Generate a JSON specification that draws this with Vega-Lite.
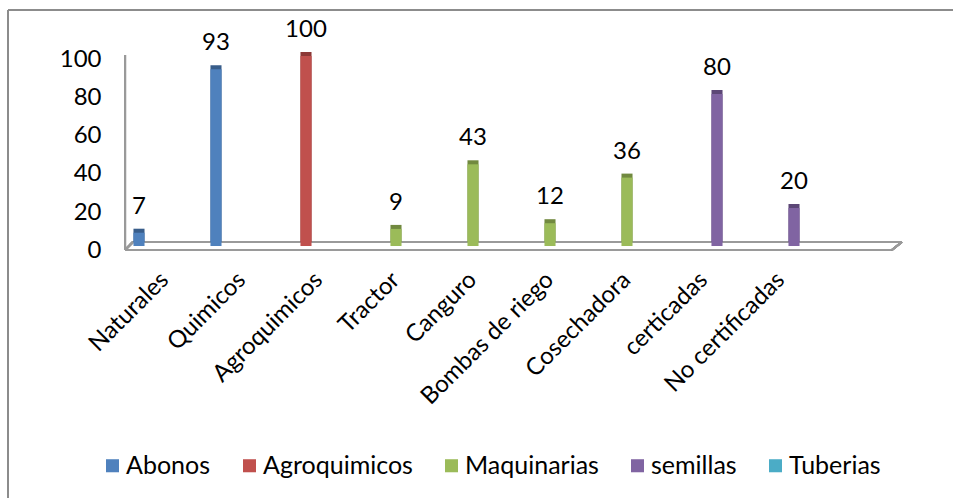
{
  "$schema": "https://vega.github.io/schema/vega-lite/v6.json",
  "width": 945,
  "height": 488,
  "autosize": {"type": "none"},
  "padding": {"left": 8, "top": 10, "right": 0, "bottom": 0},
  "config": {
    "view": {"stroke": null},
    "font": "Lato",
    "axis": {"labelFont": "Lato", "labelColor": "#000000"},
    "legend": {"labelFont": "Lato", "labelColor": "#000000"}
  },
  "data": {
    "values": [
      {"category": "Naturales", "group": "Abonos", "value": 7},
      {"category": "Quimicos", "group": "Abonos", "value": 93},
      {"category": "Agroquimicos", "group": "Agroquimicos", "value": 100},
      {"category": "Tractor", "group": "Maquinarias", "value": 9},
      {"category": "Canguro", "group": "Maquinarias", "value": 43},
      {"category": "Bombas de riego", "group": "Maquinarias", "value": 12},
      {"category": "Cosechadora", "group": "Maquinarias", "value": 36},
      {"category": "certicadas", "group": "semillas", "value": 80},
      {"category": "No certificadas", "group": "semillas", "value": 20}
    ]
  },
  "layer": [
    {
      "mark": {"type": "rule", "color": "#8c8c8c", "strokeWidth": 1.5},
      "encoding": {
        "x": {"datum": "Naturales", "bandPosition": -1.539, "type": "nominal", "scale": {"type": "band", "range": [118.5, 811.5], "paddingInner": 0, "paddingOuter": 0}},
        "x2": {"datum": "No certificadas", "bandPosition": 2.8},
        "y": {"datum": 126.3, "type": "quantitative"}
      }
    },
    {
      "mark": {"type": "rule", "color": "#8c8c8c", "strokeWidth": 1.5},
      "encoding": {
        "x": {"datum": "Naturales", "bandPosition": -1.539, "type": "nominal", "scale": {"type": "band", "range": [118.5, 811.5], "paddingInner": 0, "paddingOuter": 0}},
        "y": {"datum": 126.3, "type": "quantitative"},
        "y2": {"datum": -131}
      }
    },
    {
      "mark": {"type": "rule", "color": "#9a9a9a", "strokeWidth": 2},
      "encoding": {
        "x": {"datum": "Naturales", "bandPosition": -0.019, "type": "nominal", "scale": {"type": "band", "range": [118.5, 811.5], "paddingInner": 0, "paddingOuter": 0}},
        "y": {"datum": 102.6, "type": "quantitative"},
        "y2": {"datum": 0}
      }
    },
    {
      "mark": {"type": "rule", "color": "#9a9a9a", "strokeWidth": 2},
      "encoding": {
        "x": {"datum": "Naturales", "bandPosition": -0.019, "type": "nominal", "scale": {"type": "band", "range": [118.5, 811.5], "paddingInner": 0, "paddingOuter": 0}},
        "x2": {"datum": "No certificadas", "bandPosition": 1.94},
        "y": {"datum": 0, "type": "quantitative"}
      }
    },
    {
      "mark": {"type": "rule", "color": "#9a9a9a", "strokeWidth": 2},
      "encoding": {
        "x": {"datum": "Naturales", "bandPosition": 0.084, "type": "nominal", "scale": {"type": "band", "range": [118.5, 811.5], "paddingInner": 0, "paddingOuter": 0}},
        "x2": {"datum": "No certificadas", "bandPosition": 2.07},
        "y": {"datum": 4.2, "type": "quantitative"}
      }
    },
    {
      "mark": {"type": "rule", "color": "#9a9a9a", "strokeWidth": 2},
      "encoding": {
        "x": {"datum": "Naturales", "bandPosition": -0.019, "type": "nominal", "scale": {"type": "band", "range": [118.5, 811.5], "paddingInner": 0, "paddingOuter": 0}},
        "x2": {"datum": "Naturales", "bandPosition": 0.084},
        "y": {"datum": 0, "type": "quantitative"},
        "y2": {"datum": 4.2}
      }
    },
    {
      "mark": {"type": "rule", "color": "#9a9a9a", "strokeWidth": 2},
      "encoding": {
        "x": {"datum": "No certificadas", "bandPosition": 1.94, "type": "nominal", "scale": {"type": "band", "range": [118.5, 811.5], "paddingInner": 0, "paddingOuter": 0}},
        "x2": {"datum": "No certificadas", "bandPosition": 2.07},
        "y": {"datum": 0, "type": "quantitative"},
        "y2": {"datum": 4.2}
      }
    },
    {
      "encoding": {
        "x": {
          "field": "category",
          "type": "nominal",
          "sort": null,
          "title": null,
          "scale": {
            "type": "band",
            "domain": ["Naturales", "Quimicos", "Agroquimicos", "Tractor", "Canguro", "Bombas de riego", "Cosechadora", "certicadas", "No certificadas"],
            "range": [118.5, 811.5],
            "paddingInner": 0,
            "paddingOuter": 0
          },
          "axis": {
            "orient": "bottom",
            "offset": -226,
            "domain": false,
            "ticks": false,
            "labelAngle": -45,
            "labelFontSize": 24,
            "labelPadding": 4
          }
        },
        "xOffset": {
          "field": "group",
          "type": "nominal",
          "scale": {
            "domain": ["Abonos", "Agroquimicos", "Maquinarias", "semillas", "Tuberias"],
            "paddingInner": 0.15,
            "paddingOuter": 0.536,
            "align": 0.5
          }
        },
        "y": {
          "field": "value",
          "type": "quantitative",
          "title": null,
          "scale": {"domain": [-130.5, 126.3], "nice": false, "zero": false},
          "axis": {
            "values": [0, 20, 40, 60, 80, 100],
            "offset": -117,
            "domain": false,
            "ticks": false,
            "grid": false,
            "labelFontSize": 24,
            "labelPadding": 24
          }
        }
      },
      "layer": [
        {
          "mark": {"type": "bar", "xOffset": 4, "yOffset": -8, "y2Offset": -7},
          "encoding": {
            "color": {
              "field": "group",
              "type": "nominal",
              "legend": null,
              "scale": {
                "domain": ["Abonos", "Agroquimicos", "Maquinarias", "semillas", "Tuberias"],
                "range": ["#385d8a", "#8c3836", "#71893f", "#5c4776", "#357d91"]
              }
            }
          }
        },
        {
          "mark": {"type": "bar", "yOffset": -4, "y2Offset": -3},
          "encoding": {
            "color": {
              "field": "group",
              "type": "nominal",
              "scale": {
                "domain": ["Abonos", "Agroquimicos", "Maquinarias", "semillas", "Tuberias"],
                "range": ["#4f81bd", "#c0504d", "#9bbb59", "#8064a2", "#4bacc6"]
              },
              "legend": {
                "orient": "none",
                "legendX": 92,
                "legendY": 443,
                "direction": "horizontal",
                "title": null,
                "symbolType": "square",
                "symbolSize": 170,
                "symbolStrokeWidth": 0,
                "labelFontSize": 25,
                "labelOffset": 1,
                "columnPadding": 26
              }
            }
          }
        },
        {
          "mark": {"type": "text", "baseline": "bottom", "dy": -18, "fontSize": 24, "color": "#000000"},
          "encoding": {
            "text": {"field": "value", "type": "quantitative"}
          }
        }
      ],
      "resolve": {"scale": {"color": "independent"}}
    }
  ]
}
